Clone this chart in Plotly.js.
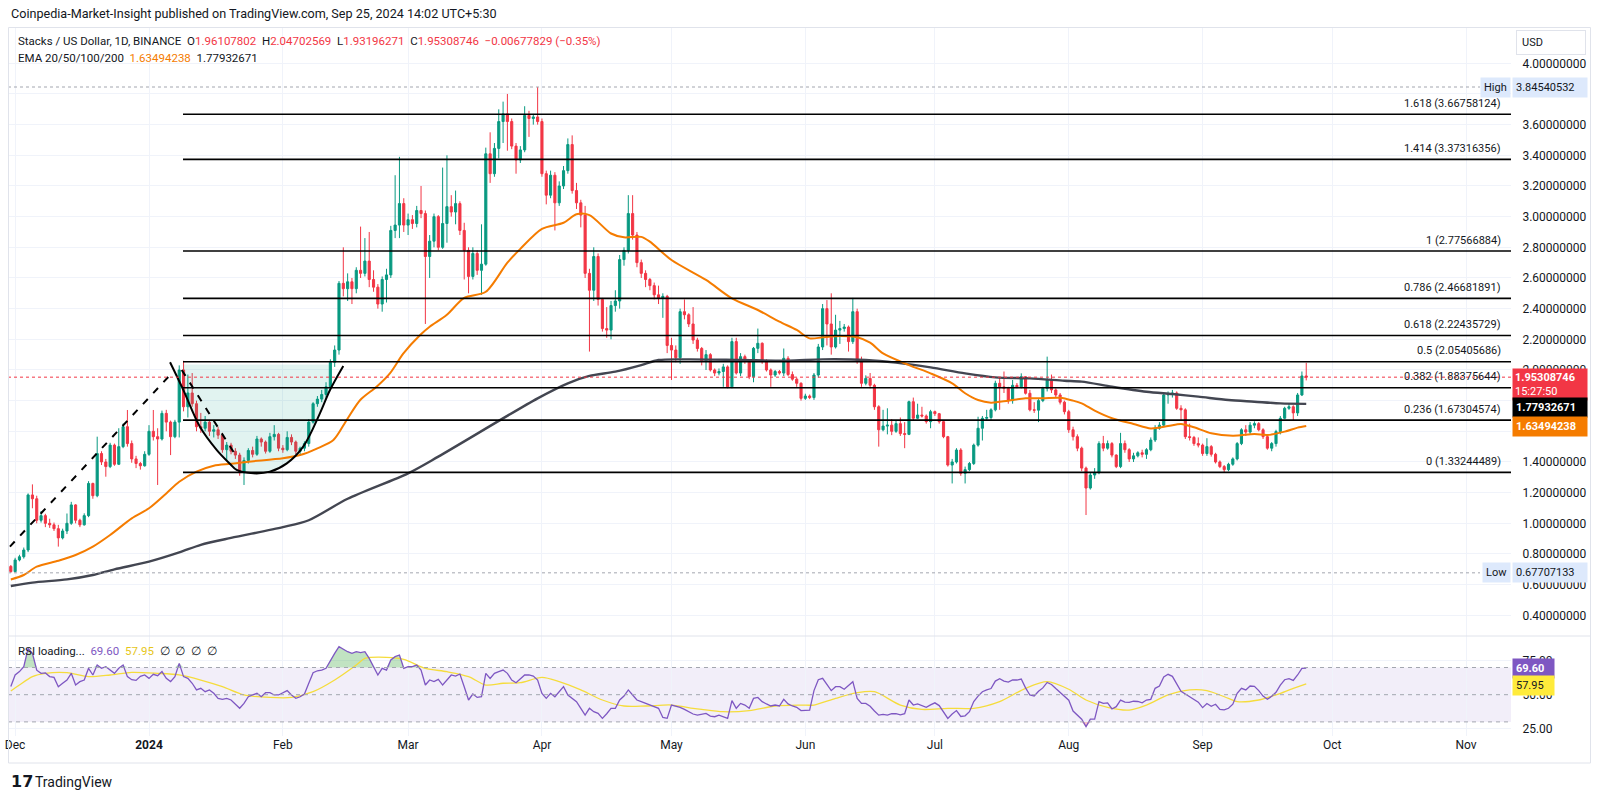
<!DOCTYPE html>
<html><head><meta charset="utf-8">
<script src="https://cdn.plot.ly/plotly-3.0.1.min.js"></script>
<style>html,body{margin:0;padding:0;background:#fff;}#chart{width:1600px;height:798px;}</style>
</head><body><div id="chart"></div>
<script>
// ---------------- DATA ----------------
const firstDate = '2023-11-30';
const firstOpen = 0.719;
const closes = [
0.685,0.761,0.782,0.826,1.185,1.160,1.020,1.050,1.000,0.990,
0.965,0.905,0.950,1.000,1.120,1.020,0.990,1.050,1.260,1.180,
1.455,1.400,1.370,1.510,1.385,1.500,1.630,1.520,1.420,1.390,
1.375,1.450,1.600,1.565,1.550,1.717,1.660,1.565,1.660,2.000,
1.760,1.850,1.780,1.630,1.620,1.660,1.600,1.610,1.575,1.480,
1.510,1.470,1.445,1.330,1.410,1.475,1.450,1.550,1.530,1.470,
1.565,1.580,1.490,1.480,1.560,1.530,1.470,1.490,1.520,1.660,
1.780,1.810,1.840,1.890,2.050,2.130,2.565,2.530,2.575,2.530,
2.650,2.630,2.710,2.590,2.540,2.430,2.590,2.620,2.910,2.945,
3.085,2.945,2.980,2.955,3.040,3.020,2.740,2.840,3.000,2.800,
2.955,3.065,3.030,3.085,2.910,2.780,2.610,2.760,2.650,2.690,
3.410,3.280,3.445,3.620,3.670,3.620,3.460,3.370,3.435,3.660,
3.640,3.650,3.620,3.280,3.140,3.270,3.090,3.200,3.300,3.470,
3.170,3.090,3.010,2.630,2.520,2.740,2.460,2.270,2.260,2.420,
2.450,2.720,2.780,3.020,2.880,2.700,2.630,2.590,2.550,2.490,
2.470,2.480,2.160,2.130,2.080,2.380,2.360,2.300,2.195,2.140,
2.055,2.100,2.000,1.980,1.990,2.020,1.890,2.185,1.980,2.087,
2.060,1.956,2.141,2.174,2.054,2.000,1.967,1.990,1.980,2.076,
1.970,1.940,1.913,1.815,1.830,1.820,1.967,2.150,2.400,2.300,
2.150,2.260,2.270,2.280,2.185,2.380,2.054,1.913,1.945,1.900,
1.760,1.610,1.634,1.640,1.600,1.650,1.585,1.580,1.793,1.685,
1.706,1.700,1.663,1.728,1.715,1.663,1.565,1.380,1.400,1.478,
1.326,1.350,1.390,1.510,1.620,1.685,1.690,1.740,1.913,1.890,
1.880,1.800,1.900,1.890,1.956,1.848,1.740,1.738,1.800,1.880,
1.934,1.870,1.837,1.790,1.728,1.610,1.565,1.490,1.360,1.230,
1.315,1.330,1.520,1.490,1.520,1.445,1.370,1.520,1.480,1.420,
1.440,1.460,1.450,1.480,1.543,1.620,1.640,1.837,1.840,1.850,
1.750,1.740,1.565,1.560,1.520,1.510,1.455,1.500,1.450,1.400,
1.370,1.350,1.385,1.420,1.520,1.610,1.595,1.640,1.650,1.610,
1.565,1.490,1.520,1.598,1.685,1.750,1.760,1.720,1.837,1.961,
1.953];
const highs = [
0.728,0.775,0.795,0.842,1.195,1.254,1.180,1.080,1.062,1.030,
1.005,0.990,0.965,1.064,1.140,1.125,1.030,1.065,1.275,1.265,
1.565,1.470,1.420,1.525,1.520,1.620,1.650,1.739,1.540,1.440,
1.400,1.470,1.640,1.739,1.620,1.735,1.740,1.670,1.675,2.030,
2.060,1.970,1.980,1.800,1.720,1.700,1.670,1.640,1.630,1.590,
1.530,1.525,1.490,1.460,1.430,1.490,1.500,1.570,1.560,1.540,
1.590,1.640,1.590,1.510,1.600,1.580,1.540,1.500,1.535,1.680,
1.790,1.830,1.870,1.920,2.070,2.160,2.580,2.800,2.630,2.600,
2.670,2.935,2.860,2.900,2.650,2.560,2.610,2.660,2.940,3.270,
3.390,3.120,3.020,3.010,3.070,3.200,3.040,2.880,3.020,3.010,
3.320,3.400,3.140,3.170,3.100,2.960,2.800,2.800,2.780,2.950,
3.450,3.550,3.480,3.700,3.750,3.800,3.640,3.480,3.460,3.720,
3.690,3.670,3.845,3.640,3.300,3.300,3.290,3.230,3.330,3.510,
3.530,3.220,3.110,3.070,2.660,2.800,2.760,2.470,2.410,2.450,
2.520,2.750,2.800,3.140,3.140,2.900,2.720,2.650,2.600,2.570,
2.550,2.500,2.490,2.210,2.160,2.400,2.460,2.370,2.410,2.210,
2.150,2.130,2.110,2.010,2.010,2.040,2.030,2.210,2.210,2.110,
2.100,2.070,2.150,2.270,2.180,2.070,2.010,2.000,2.000,2.140,
2.090,1.990,1.950,1.920,1.845,1.840,1.980,2.170,2.430,2.456,
2.500,2.360,2.320,2.300,2.290,2.470,2.400,2.087,1.965,1.980,
1.910,1.770,1.740,1.750,1.680,1.670,1.690,1.660,1.800,1.820,
1.780,1.760,1.710,1.740,1.735,1.720,1.670,1.570,1.420,1.490,
1.490,1.370,1.400,1.520,1.695,1.700,1.740,1.750,1.930,1.950,
1.990,1.890,1.935,1.915,1.978,1.960,1.870,1.790,1.810,1.890,
2.087,1.970,1.880,1.850,1.800,1.740,1.630,1.580,1.500,1.370,
1.330,1.360,1.535,1.570,1.540,1.530,1.450,1.590,1.540,1.490,
1.460,1.470,1.480,1.490,1.560,1.640,1.660,1.850,1.860,1.870,
1.860,1.770,1.750,1.650,1.570,1.560,1.520,1.555,1.510,1.460,
1.410,1.380,1.395,1.430,1.530,1.620,1.640,1.660,1.665,1.660,
1.620,1.570,1.530,1.610,1.700,1.760,1.780,1.770,1.850,1.990,
2.047];
const lows = [
0.677,0.680,0.752,0.770,0.812,1.098,1.000,1.005,0.975,0.970,
0.950,0.848,0.895,0.930,0.990,1.000,0.975,0.985,1.040,1.160,
1.170,1.380,1.304,1.360,1.375,1.380,1.490,1.500,1.395,1.360,
1.350,1.370,1.440,1.540,1.250,1.540,1.600,1.445,1.555,1.560,
1.730,1.690,1.760,1.600,1.590,1.600,1.570,1.560,1.550,1.460,
1.413,1.450,1.420,1.310,1.250,1.390,1.430,1.440,1.500,1.455,
1.460,1.540,1.470,1.460,1.470,1.510,1.450,1.440,1.470,1.500,
1.650,1.760,1.790,1.820,1.870,2.020,2.100,2.480,2.450,2.430,
2.500,2.600,2.610,2.540,2.510,2.400,2.380,2.440,2.600,2.860,
2.860,2.900,2.880,2.920,2.930,2.990,2.300,2.600,2.800,2.780,
2.790,2.830,3.000,2.950,2.880,2.590,2.500,2.590,2.620,2.490,
2.680,3.220,3.260,3.380,3.480,3.430,3.440,3.280,3.350,3.420,
3.520,3.600,3.600,3.260,3.080,3.120,2.910,3.070,3.180,3.280,
3.150,3.050,2.930,2.600,2.120,2.450,2.420,2.250,2.210,2.200,
2.380,2.400,2.680,2.760,2.850,2.670,2.600,2.540,2.520,2.460,
2.430,2.340,2.110,1.935,2.050,2.040,2.330,2.280,2.170,2.120,
2.030,2.000,1.990,1.960,1.965,1.890,1.880,1.880,1.970,1.960,
2.040,1.940,1.920,2.110,2.040,1.990,1.890,1.955,1.970,1.960,
1.960,1.930,1.890,1.800,1.805,1.810,1.805,1.950,2.130,2.160,
2.100,2.140,2.170,2.250,2.120,2.170,2.040,1.890,1.900,1.880,
1.740,1.500,1.600,1.580,1.575,1.590,1.570,1.490,1.575,1.670,
1.680,1.690,1.650,1.620,1.700,1.650,1.555,1.370,1.260,1.390,
1.310,1.260,1.340,1.380,1.500,1.540,1.670,1.670,1.730,1.740,
1.850,1.780,1.780,1.880,1.880,1.840,1.730,1.720,1.660,1.790,
1.860,1.850,1.820,1.775,1.710,1.590,1.540,1.470,1.340,1.054,
1.220,1.290,1.320,1.470,1.480,1.430,1.360,1.360,1.460,1.400,
1.400,1.430,1.430,1.420,1.470,1.530,1.610,1.630,1.780,1.820,
1.740,1.670,1.550,1.540,1.505,1.495,1.440,1.440,1.435,1.390,
1.360,1.332,1.340,1.375,1.410,1.510,1.570,1.580,1.620,1.600,
1.550,1.480,1.470,1.500,1.580,1.680,1.740,1.670,1.700,1.830,
1.932];

const emaFastDates = ['2023-11-30','2023-12-03','2023-12-06','2023-12-11','2023-12-15','2023-12-19','2023-12-23','2023-12-28','2024-01-01','2024-01-05','2024-01-08','2024-01-12','2024-01-16','2024-01-20','2024-01-24','2024-02-01','2024-02-05','2024-02-09','2024-02-12 17:00','2024-02-15 19:00','2024-02-18 22:00','2024-02-22 17:00','2024-02-25 19:00','2024-02-28 22:00','2024-03-03 19:00','2024-03-06','2024-03-09 22:00','2024-03-14','2024-03-19','2024-03-24','2024-03-27','2024-04-01','2024-04-06','2024-04-09','2024-04-12','2024-04-17','2024-04-20','2024-04-24','2024-04-26','2024-05-01','2024-05-09','2024-05-15','2024-05-21','2024-05-26','2024-05-30','2024-06-02','2024-06-05','2024-06-09','2024-06-13','2024-06-16','2024-06-19','2024-06-25','2024-06-30','2024-07-05','2024-07-08','2024-07-11','2024-07-14','2024-07-18','2024-07-22','2024-07-26','2024-07-30','2024-08-02','2024-08-04','2024-08-07','2024-08-11','2024-08-16','2024-08-20','2024-08-24','2024-08-27','2024-08-30','2024-09-03','2024-09-08','2024-09-13','2024-09-16','2024-09-20','2024-09-23','2024-09-25'];
const emaFastValues = [0.634,0.663,0.717,0.756,0.793,0.848,0.924,1.032,1.098,1.195,1.271,1.337,1.376,1.388,1.402,1.424,1.445,1.489,1.543,1.674,1.804,1.891,1.978,2.108,2.228,2.282,2.358,2.470,2.510,2.700,2.790,2.920,2.960,3.015,3.010,2.890,2.865,2.868,2.837,2.717,2.587,2.467,2.391,2.315,2.261,2.206,2.213,2.221,2.213,2.178,2.108,2.032,1.978,1.913,1.848,1.804,1.787,1.800,1.815,1.815,1.819,1.800,1.782,1.735,1.685,1.648,1.619,1.634,1.648,1.626,1.587,1.571,1.582,1.576,1.598,1.624,1.635];

const emaSlowDates = ['2023-11-30','2023-12-05','2023-12-13','2023-12-19','2023-12-24','2024-01-01','2024-01-08','2024-01-13','2024-01-20','2024-02-01','2024-02-07','2024-02-16','2024-03-01','2024-03-08','2024-03-31','2024-04-07','2024-04-12','2024-04-18','2024-04-24','2024-04-28','2024-05-05','2024-05-17','2024-05-28','2024-06-05','2024-06-15','2024-06-22','2024-06-30','2024-07-08','2024-07-15','2024-07-23','2024-07-31','2024-08-04','2024-08-11','2024-08-19','2024-08-25','2024-08-31','2024-09-07','2024-09-13','2024-09-19','2024-09-25'];
const emaSlowValues = [0.591,0.613,0.634,0.663,0.700,0.750,0.810,0.860,0.905,0.975,1.020,1.160,1.326,1.435,1.815,1.913,1.961,1.989,2.032,2.065,2.069,2.065,2.061,2.069,2.065,2.048,2.017,1.978,1.952,1.945,1.930,1.924,1.891,1.858,1.843,1.826,1.804,1.793,1.782,1.779];

const rsiValues = [
56,64.5,67,70.6,84,80.4,68,65.7,66,63.3,
62.7,55.9,58.4,60.8,65.7,57.1,59.6,60.8,69.4,64.5,
71.8,69.4,70.6,68.1,65.7,69.4,71.8,63.3,61,60.5,
63.5,64.5,62,65,64,67,62,59.6,63.3,73,
63.3,62,58.4,53.5,54.7,52.2,53.5,51,47.3,46.6,
47.3,46.1,43.2,40,43.6,48.5,49.8,51,48.5,51.5,
51.5,49.8,49.8,51.5,53,49.8,47.3,48.5,50.5,58.4,
66.2,67.6,68.1,69.4,75.5,80.4,85.3,83.4,81.6,80.4,
81.6,80.9,81.6,76.7,70.6,64.5,69.4,68.1,75.5,78,
79.2,69.4,70.6,70.6,71.8,68.1,57.1,60.8,59.6,61.3,
57.1,60.8,64.5,63.7,65.2,55.9,46.1,50.5,48,48.5,
65.7,62,65.7,66.9,68.1,65.7,60.8,58.8,62,64.5,
64.5,63.7,60.8,51,47.3,51,48.5,52.2,55.9,49.8,
47.3,44.9,40,35,40,37.5,36.3,32.6,36,40,
40,46.1,49,53.5,49.8,46.1,44.9,43.6,42.4,41.2,
40,33.3,32.6,42.4,41.7,40.7,39.2,37.5,35.8,35,
35.5,36.3,34.3,33.8,35,33.5,32.6,45.6,40,43.6,
42.4,40,47.3,48,44.9,43.2,41.7,42.4,41.7,46.6,
43.2,41.7,40.7,38.3,38.3,38.7,53,61,62,57,
53,55.9,55.9,54,57,59.6,47.3,43.6,43.6,41.5,
38,35,35.5,35,36,36,35.2,36,46.1,42.4,
43.2,42,40.7,42.5,44,42,37,32.6,35.8,38.3,
34,34.5,37.5,45,49,52.2,53.5,54.5,60,61.7,
60,59.3,60.8,60.8,61.5,55,49.8,49.1,52.5,55,
59,57.5,54.5,51.5,48.5,46,38,35,32,26.5,
32,32,44.9,43.6,44,39.5,41.2,46,44.5,44.4,
45.2,45,44,46.1,46.6,54.7,56.4,63,65,63.5,
58.4,52.5,50.5,48.5,47,44.5,40.5,43.5,41.5,43,
39.2,38.8,40,43,51,54.7,53.5,56.4,56.2,53,
49,46.7,48.8,51.8,57,61,61.8,60.5,64.5,69.4,
69.6];

const rsiMaDates = ['2023-11-30','2023-12-02','2023-12-05','2023-12-08','2023-12-13','2023-12-18','2023-12-23','2023-12-28','2024-01-03','2024-01-08','2024-01-13','2024-01-18','2024-01-23','2024-01-29','2024-02-03','2024-02-08','2024-02-13','2024-02-18','2024-02-20','2024-02-25','2024-02-29','2024-03-05','2024-03-10','2024-03-15','2024-03-19','2024-03-23','2024-03-27','2024-04-01','2024-04-05','2024-04-10','2024-04-15','2024-04-20','2024-04-25','2024-05-01','2024-05-06','2024-05-08','2024-05-13','2024-05-19','2024-05-25','2024-05-31','2024-06-03','2024-06-08','2024-06-13','2024-06-17','2024-06-23','2024-06-28','2024-07-04','2024-07-10','2024-07-16','2024-07-22','2024-07-27','2024-08-01','2024-08-05','2024-08-10','2024-08-15','2024-08-19','2024-08-24','2024-08-29','2024-09-02','2024-09-07','2024-09-09','2024-09-14','2024-09-18','2024-09-22','2024-09-25'];
const rsiMaValues = [52.7,57.1,63.3,65.7,66.2,63.3,64.5,66.4,65.7,64.5,60.8,55.9,49.8,48,48,52.2,60.8,71.8,76.7,77.5,76,69.4,66.9,63.3,57.1,58.4,58.8,62.7,59.6,53.5,46.1,41.7,41.7,42.4,40,39.2,37.5,38.3,41.7,42.4,42.4,47.3,51.5,52.2,42.4,39.2,40,40,44.9,54.7,59.6,54,46.1,40.7,38.7,42.4,49.8,53.5,53,47.3,44.9,46.1,49.8,54.7,57.95];

const fibRatios = ['0','0.236','0.382','0.5','0.618','0.786','1','1.414','1.618'];
const fibPrices = [1.33244489,1.67304574,1.88375644,2.05405686,2.22435729,2.46681891,2.77566884,3.37316356,3.66758124];
const fibStartDate = '2024-01-08 21:00';

const cupDates = ['2024-01-05 21:00','2024-01-08 23:00','2024-01-12 19:00','2024-01-16 17:00','2024-01-19 19:00','2024-01-21 07:00','2024-01-25 05:00','2024-01-29 00:00','2024-02-01 22:00','2024-02-05 17:00','2024-02-09 14:00','2024-02-11 22:00','2024-02-15 00:00'];
const cupPrices = [2.050,1.869,1.630,1.478,1.387,1.348,1.326,1.337,1.391,1.500,1.717,1.869,2.026];
const cupFillTop = 2.035;

const trendA = {dates:['2023-11-29 19:00','2024-01-06 06:00'], prices:[0.848,1.978]};
const trendB = {dates:['2024-01-08 14:00','2024-01-20 22:00'], prices:[2.000,1.450]};

// price ticks; labels fully covered by the value boxes in the reference are left blank
const priceTicks = [0.4,0.6,0.8,1.0,1.2,1.4,1.6,1.8,2.0,2.2,2.4,2.6,2.8,3.0,3.2,3.4,3.6,3.8,4.0];
const priceTickLabels = ['0.40000000','0.60000000','0.80000000','1.00000000','1.20000000','1.40000000','','','2.00000000','2.20000000','2.40000000','2.60000000','2.80000000','3.00000000','3.20000000','3.40000000','3.60000000','','4.00000000'];
const rsiTicks = [25,50,75];
const rsiTickLabels = ['25.00','50.00','75.00'];
const monthTickDates = ['2023-12-01','2024-01-01','2024-02-01','2024-03-01','2024-04-01','2024-05-01','2024-06-01','2024-07-01','2024-08-01','2024-09-01','2024-10-01','2024-11-01'];
const monthTickLabels = ['Dec','<b>2024</b>','Feb','Mar','Apr','May','Jun','Jul','Aug','Sep','Oct','Nov'];

const highMark = 3.84540532, lowMark = 0.67707133;
const lastPrice = 1.95308746, emaFastLast = 1.63494238, emaSlowLast = 1.77932671;
const rsiLast = 69.60, rsiMaLast = 57.95;
const legendOHLC = {O:'1.96107802', H:'2.04702569', L:'1.93196271', C:'1.95308746', chg:'\u22120.00677829 (\u22120.35%)'};

// ---------------- BUILD ----------------
function dayString(i){ const d = new Date(Date.UTC(2023,10,30+i)); return d.toISOString().slice(0,10); }
const dates = closes.map((_,i)=>dayString(i));
const opens = [firstOpen].concat(closes.slice(0,-1));

const RED='#f23645', GREEN='#089981', ORANGE='#f57c00', DARK='#131722';
const FONT='Roboto, "Liberation Sans", Arial, sans-serif';
const FS = 11;
const PLOT_L=8, PLOT_W=1503, PLOT_B=736, PLOT_H=709;
const PX = x => (x-PLOT_L)/PLOT_W;
const PY = y => (PLOT_B-y)/PLOT_H;
const xRange = ['2023-11-29 08:18','2024-11-11 10:05'];
const rsiSplit = PY(636);

const traces = [];
const fillX = [cupDates[1], cupDates[11]].concat(cupDates.slice(1,12).reverse());
const fillY = [cupFillTop, cupFillTop].concat(cupPrices.slice(1,12).reverse());
traces.push({type:'scatter', mode:'lines', x:fillX, y:fillY, fill:'toself', fillcolor:'rgba(8,153,129,0.12)', line:{width:0}, hoverinfo:'skip', xaxis:'x', yaxis:'y'});
traces.push({type:'candlestick', x:dates, open:opens, high:highs, low:lows, close:closes,
  increasing:{line:{color:GREEN,width:1}, fillcolor:GREEN},
  decreasing:{line:{color:RED,width:1}, fillcolor:RED},
  whiskerwidth:0, hoverinfo:'skip', xaxis:'x', yaxis:'y'});
traces.push({type:'scatter', mode:'lines', x:emaSlowDates, y:emaSlowValues, line:{color:'#434651', width:2.4, shape:'spline', smoothing:0.8}, hoverinfo:'skip', xaxis:'x', yaxis:'y'});
traces.push({type:'scatter', mode:'lines', x:emaFastDates, y:emaFastValues, line:{color:ORANGE, width:2, shape:'spline', smoothing:0.8}, hoverinfo:'skip', xaxis:'x', yaxis:'y'});
traces.push({type:'scatter', mode:'lines', x:cupDates, y:cupPrices, line:{color:'#000000', width:2, shape:'spline', smoothing:1}, hoverinfo:'skip', xaxis:'x', yaxis:'y'});
[trendA, trendB].forEach(t=>traces.push({type:'scatter', mode:'lines', x:t.dates, y:t.prices, line:{color:'#000000', width:2, dash:'7px,8px'}, hoverinfo:'skip', xaxis:'x', yaxis:'y'}));
traces.push({type:'scatter', mode:'lines', x:dates, y:rsiValues.map(()=>70), line:{width:0}, hoverinfo:'skip', xaxis:'x', yaxis:'y2'});
traces.push({type:'scatter', mode:'lines', x:dates, y:rsiValues.map(v=>Math.max(v,70)), fill:'tonexty', fillcolor:'rgba(76,175,80,0.35)', line:{width:0}, hoverinfo:'skip', xaxis:'x', yaxis:'y2'});
traces.push({type:'scatter', mode:'lines', x:dates, y:rsiValues.map(()=>30), line:{width:0}, hoverinfo:'skip', xaxis:'x', yaxis:'y2'});
traces.push({type:'scatter', mode:'lines', x:dates, y:rsiValues.map(v=>Math.min(v,30)), fill:'tonexty', fillcolor:'rgba(242,54,69,0.3)', line:{width:0}, hoverinfo:'skip', xaxis:'x', yaxis:'y2'});
traces.push({type:'scatter', mode:'lines', x:rsiMaDates, y:rsiMaValues, line:{color:'#f5dc3c', width:1.3, shape:'spline', smoothing:0.8}, hoverinfo:'skip', xaxis:'x', yaxis:'y2'});
traces.push({type:'scatter', mode:'lines', x:dates, y:rsiValues, line:{color:'#7e57c2', width:1.3}, hoverinfo:'skip', xaxis:'x', yaxis:'y2'});

const shapes = [];
shapes.push({type:'rect', xref:'paper', yref:'y2', x0:0, x1:1, y0:30, y1:70, fillcolor:'rgba(126,87,194,0.1)', line:{width:0}, layer:'below'});
[70,50,30].forEach(v=>shapes.push({type:'line', xref:'paper', yref:'y2', x0:0, x1:1, y0:v, y1:v, line:{color:'#a3a6af', width:1, dash:'4px,4px'}}));
fibPrices.forEach(p=>shapes.push({type:'line', xref:'x', yref:'y', x0:fibStartDate, x1:xRange[1], y0:p, y1:p, line:{color:'#000000', width:1.6}}));
shapes.push({type:'line', xref:'paper', yref:'y', x0:0, x1:1, y0:lastPrice, y1:lastPrice, line:{color:RED, width:1, dash:'dot'}});
shapes.push({type:'line', xref:'paper', yref:'y', x0:0, x1:PX(1480), y0:highMark, y1:highMark, line:{color:'#a3a6af', width:1, dash:'dot'}});
shapes.push({type:'line', xref:'paper', yref:'y', x0:0, x1:PX(1480), y0:lowMark, y1:lowMark, line:{color:'#a3a6af', width:1, dash:'dot'}});
shapes.push({type:'rect', xref:'paper', yref:'paper', x0:PX(8.5), x1:PX(1590.5), y0:PY(763), y1:PY(27.5), line:{color:'#e0e3eb', width:1}, fillcolor:'rgba(0,0,0,0)'});
shapes.push({type:'line', xref:'paper', yref:'paper', x0:PX(8.5), x1:PX(1590.5), y0:rsiSplit, y1:rsiSplit, line:{color:'#e0e3eb', width:1}});

const annotations = [];
const ann = o => annotations.push(Object.assign({showarrow:false, font:{family:FONT, size:FS, color:DARK}}, o));
ann({xref:'paper', yref:'paper', x:PX(9), y:PY(13), xanchor:'left', yanchor:'middle', text:'Coinpedia-Market-Insight published on TradingView.com, Sep 25, 2024 14:02 UTC+5:30', font:{family:FONT, size:12.6, color:DARK}});
const sp = '\u00a0\u00a0';
const red = s => `<span style="color:${RED}">${s}</span>`;
ann({xref:'paper', yref:'paper', x:PX(16), y:PY(41), xanchor:'left', yanchor:'middle',
  text:`Stacks / US Dollar, 1D, BINANCE${sp}O${red(legendOHLC.O)}${sp}H${red(legendOHLC.H)}${sp}L${red(legendOHLC.L)}${sp}C${red(legendOHLC.C)}${sp}${red(legendOHLC.chg)}`, font:{family:FONT, size:11.5, color:DARK}});
ann({xref:'paper', yref:'paper', x:PX(16), y:PY(58), xanchor:'left', yanchor:'middle',
  text:`EMA 20/50/100/200${sp}<span style="color:${ORANGE}">${emaFastLast.toFixed(8)}</span>${sp}${emaSlowLast.toFixed(8)}`, font:{family:FONT, size:11.5, color:DARK}});
ann({xref:'paper', yref:'paper', x:PX(16), y:PY(651), xanchor:'left', yanchor:'middle',
  text:`RSI loading...${sp}<span style="color:#7e57c2">${rsiLast.toFixed(2)}</span>${sp}<span style="color:#e6c619">${rsiMaLast.toFixed(2)}</span>${sp}\u2205${sp}\u2205${sp}\u2205${sp}\u2205`, font:{family:FONT, size:11.5, color:DARK}});
fibRatios.forEach((r,k)=>ann({xref:'paper', yref:'y', x:PX(1503), y:fibPrices[k], xanchor:'right', yanchor:'middle', yshift:11, text:`${r} (${fibPrices[k].toFixed(8)})`}));
const box = (y, text, bg, fg, yshift) => ann({xref:'paper', yref:'y', x:PX(1512), y:y, xanchor:'left', yanchor:'middle', yshift:yshift||0, text:text, bgcolor:bg, borderpad:3, width:68, align:'left', font:{family:FONT, size:FS, color:fg}});
box(highMark, highMark.toFixed(8), '#dde9fc', DARK, 0);
box(lowMark, lowMark.toFixed(8), '#dde9fc', DARK, 0);
ann({xref:'paper', yref:'y', x:PX(1511), y:highMark, xanchor:'right', yanchor:'middle', text:'High', bgcolor:'#dde9fc', borderpad:3});
ann({xref:'paper', yref:'y', x:PX(1511), y:lowMark, xanchor:'right', yanchor:'middle', text:'Low', bgcolor:'#dde9fc', borderpad:3});
ann({xref:'paper', yref:'y', x:PX(1512), y:lastPrice, xanchor:'left', yanchor:'top', yshift:9, text:`<b>${lastPrice.toFixed(8)}</b><br>15:27:50`, bgcolor:RED, borderpad:2, width:70, align:'left', font:{family:FONT, size:FS, color:'#ffffff'}});
box(emaSlowLast, `<b>${emaSlowLast.toFixed(8)}</b>`, '#000000', '#ffffff', -4);
box(emaFastLast, `<b>${emaFastLast.toFixed(8)}</b>`, ORANGE, '#ffffff', -1);
ann({xref:'paper', yref:'y2', x:PX(1512), y:rsiLast, xanchor:'left', yanchor:'middle', text:`<b>${rsiLast.toFixed(2)}</b>`, bgcolor:'#7e57c2', borderpad:3, width:35, align:'left', font:{family:FONT, size:FS, color:'#ffffff'}});
ann({xref:'paper', yref:'y2', x:PX(1512), y:rsiMaLast, xanchor:'left', yanchor:'middle', yshift:-1.5, text:rsiMaLast.toFixed(2), bgcolor:'#ffeb3b', borderpad:3, width:35, align:'left'});
ann({xref:'paper', yref:'paper', x:PX(1516), y:PY(43), xanchor:'left', yanchor:'middle', text:'USD', bgcolor:'#ffffff', bordercolor:'#e0e3eb', borderwidth:1, borderpad:5, width:58, align:'left'});
ann({xref:'paper', yref:'paper', x:PX(9), y:PY(782), xanchor:'left', yanchor:'middle', text:'<b>17</b>', font:{family:'"DejaVu Sans", sans-serif', size:16, color:DARK}});
ann({xref:'paper', yref:'paper', x:PX(33), y:PY(782), xanchor:'left', yanchor:'middle', text:'TradingView', font:{family:FONT, size:14, color:DARK}});

const layout = {
  width:1600, height:798,
  margin:{l:PLOT_L, r:1600-PLOT_L-PLOT_W, t:27, b:798-PLOT_B},
  paper_bgcolor:'#ffffff', plot_bgcolor:'#ffffff',
  showlegend:false, hovermode:false, dragmode:false,
  font:{family:FONT, size:FS, color:DARK},
  xaxis:{type:'date', range:xRange, tickvals:monthTickDates, ticktext:monthTickLabels, showgrid:true, gridcolor:'#f0f3fa', zeroline:false, showline:false, ticks:'', anchor:'y2', rangeslider:{visible:false}, fixedrange:true, tickfont:{size:12, color:DARK}},
  yaxis:{domain:[rsiSplit,1], range:[0.2651,4.2367], side:'right', anchor:'x', tickvals:priceTicks, ticktext:priceTickLabels, showgrid:true, gridcolor:'#f0f3fa', zeroline:false, showline:false, ticks:'outside', ticklen:8, tickcolor:'rgba(0,0,0,0)', fixedrange:true, tickfont:{size:12, color:DARK}},
  yaxis2:{domain:[0,rsiSplit], range:[19.63,93.16], side:'right', anchor:'x', tickvals:rsiTicks, ticktext:rsiTickLabels, showgrid:true, gridcolor:'#f0f3fa', zeroline:false, showline:false, ticks:'outside', ticklen:8, tickcolor:'rgba(0,0,0,0)', fixedrange:true, tickfont:{size:12, color:DARK}},
  shapes:shapes, annotations:annotations
};
Plotly.newPlot('chart', traces, layout, {staticPlot:true, displayModeBar:false});
</script></body></html>
